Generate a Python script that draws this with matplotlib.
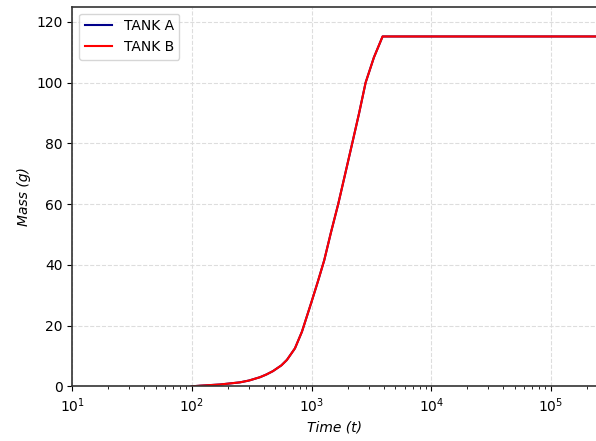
import matplotlib
matplotlib.use("Agg")
import matplotlib.pyplot as plt

# Data
time_s = [100, 117, 172, 252, 300, 371, 420, 476, 560, 623, 727, 832, 1000, 1130,
          1277, 1450, 1671, 1900, 2188, 2500, 2832, 3322, 3926, 250000]
mass_b = [0.0, 0.2, 0.6, 1.3, 1.9, 3.0, 3.9, 5.0, 6.9, 8.7, 12.5, 18.0, 27.8, 34.5,
          41.5, 50.5, 60.0, 69.5, 80.0, 90.0, 100.0, 108.3, 115.2, 115.2]
mass_a = list(mass_b)
series_labels = ["TANK A", "TANK B"]

fig = plt.figure(figsize=(5.96, 4.41), dpi=100)
ax = fig.add_axes([0.1211, 0.124, 0.8795, 0.8608])

ax.plot(time_s, mass_a, color="#00008B", lw=1.5, label=series_labels[0])
ax.plot(time_s, mass_b, color="red", lw=1.5, label=series_labels[1])

ax.set_xscale("log")
ax.set_xlim(10, 2.4e5)
ax.set_ylim(0, 125)
ax.set_yticks([0, 20, 40, 60, 80, 100, 120])
ax.grid(True, which="major", linestyle="--", color="#dddddd", lw=0.8)
ax.set_axisbelow(True)

ax.set_xlabel("Time (t)", fontstyle="italic", fontsize=10)
ax.set_ylabel("Mass (g)", fontstyle="italic", fontsize=10)
ax.tick_params(labelsize=10)
for s in ax.spines.values():
    s.set_color("#333333")
    s.set_linewidth(1.2)
ax.spines["right"].set_visible(False)

ax.legend(loc="upper left", fontsize=10, framealpha=0.8)

fig.savefig("out.png", dpi=100)
